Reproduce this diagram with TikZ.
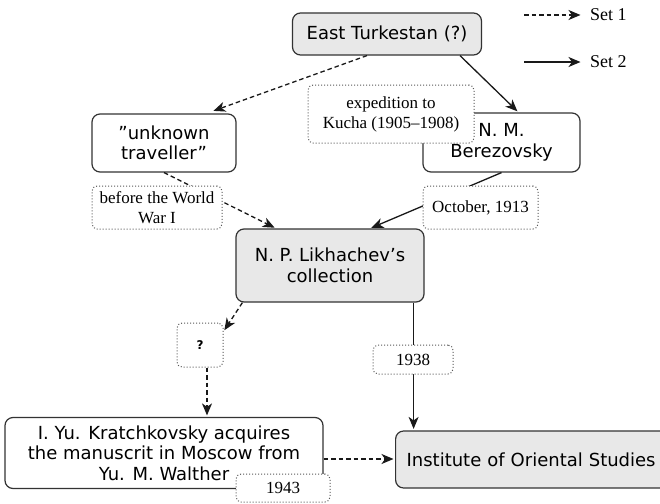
\documentclass[tikz,border=0pt]{standalone}
\usepackage{fontspec}
\newfontfamily\dvs{DejaVu Sans}
\newfontfamily\lsr{Liberation Serif}
\usetikzlibrary{arrows.meta}
\definecolor{boxgray}{HTML}{E8E8E8}
\tikzset{
  box/.style={draw=black!80, line width=1.2pt, rounded corners=8pt, fill=white,
    font=\dvs\fontsize{18}{20.5}\selectfont, align=center, inner sep=0pt},
  gbox/.style={box, fill=boxgray},
  lab/.style={draw=black!65, dotted, line width=1pt, rounded corners=5pt, fill=white,
    font=\lsr\fontsize{17}{20}\selectfont, align=center, inner sep=0pt},
  conn/.style={draw=black!90, line width=1.3pt, -{Stealth[length=12pt,width=10pt,inset=3.5pt]}, shorten >=1.5pt},
  setone/.style={conn, dash pattern=on 4.5pt off 3pt},
  settwo/.style={conn},
}
\begin{document}
\begin{tikzpicture}[x=1pt,y=-1pt]
\useasboundingbox (0,0) rectangle (660,503);
\clip (0,0) rectangle (660,503);
% boxes
\node[gbox, minimum width=189pt, minimum height=42pt] (east) at (387,34) {East Turkestan (?)};
\node[box, minimum width=144pt, minimum height=58pt] (trav) at (164,143) {”unknown\\traveller”};
\node[box, minimum width=157pt, minimum height=59pt] (ber) at (501.5,142.5) {N. M.\\Berezovsky};
\node[gbox, minimum width=188pt, minimum height=73pt] (lik) at (330,265.5) {N. P. Likhachev’s\\collection};
\node[lab, minimum width=46pt, minimum height=44pt, font=\dvs\bfseries\fontsize{12}{14}\selectfont] (q) at (200,345) {?};
\node[box, minimum width=318pt, minimum height=71pt] (kr) at (164,453) {I. Yu. Kratchkovsky acquires\\the manuscrit in Moscow from\\Yu. M. Walther};
\node[gbox, anchor=west, minimum height=57pt, text width=290pt, align=left, inner xsep=11pt] (inst) at (395,459.5) {Institute of Oriental Studies};
% connectors
\draw[setone] ([xshift=-20pt]east.south) -- ([xshift=48pt,yshift=2pt]trav.north);
\draw[settwo] ([xshift=73pt]east.south) -- ([xshift=17pt]ber.north);
\draw[setone] (trav.south) -- ([xshift=-54pt]lik.north);
\draw[settwo] (ber.south) -- ([xshift=40pt]lik.north);
\draw[setone] ([xshift=7pt]lik.south west) -- ([yshift=-9pt]q.north east);
\draw[setone] ([xshift=7pt]q.south) -- ([xshift=7pt]q.south |- kr.north);
\draw[settwo] ([xshift=-11pt]lik.south east) -- ([xshift=-11pt]lik.south east |- inst.north);
\draw[setone] ([yshift=-6pt]kr.east) -- ([yshift=-6pt]kr.east -| inst.west);
% labels
\node[lab, minimum width=166pt, minimum height=58pt] (exp) at (391,114) {expedition to\\Kucha (1905–1908)};
\node[lab, minimum width=130pt, minimum height=43pt] (bef) at (157,207.5) {before the World\\War I};
\node[lab, minimum width=115pt, minimum height=43pt] (oct) at (480.5,207.5) {October, 1913};
\node[lab, minimum width=80pt, minimum height=29pt] (l38) at (413,359.5) {1938};
\node[lab, minimum width=94pt, minimum height=28pt] (l43) at (283,488) {1943};
% legend
\coordinate (s1a) at (524,15);
\coordinate (s1b) at (582,15);
\coordinate (s2a) at (524,62);
\coordinate (s2b) at (582,62);
\draw[setone] (s1a) -- (s1b);
\draw[settwo] (s2a) -- (s2b);
\node[anchor=west, inner sep=0pt, font=\lsr\fontsize{18}{20}\selectfont] (set1) at (590,15) {Set 1};
\node[anchor=west, inner sep=0pt, font=\lsr\fontsize{18}{20}\selectfont] (set2) at (590,62) {Set 2};
\end{tikzpicture}
\end{document}
